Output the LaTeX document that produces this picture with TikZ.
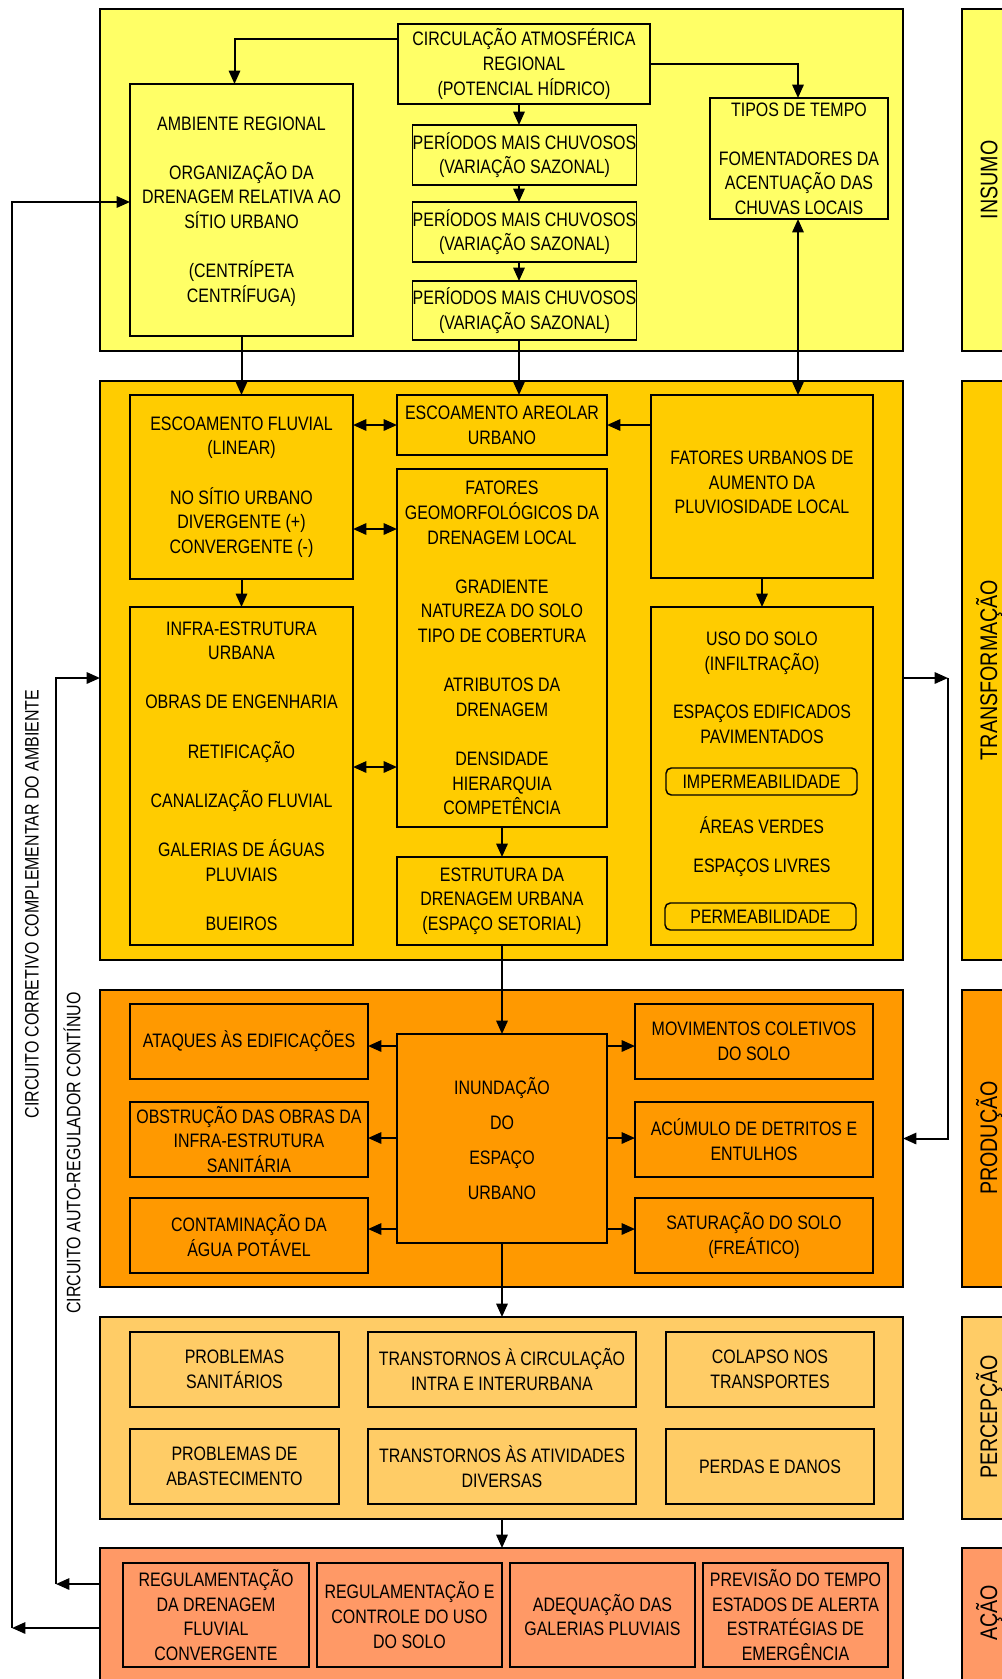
\documentclass[tikz,border=0pt]{standalone}
\usepackage{fontspec}
\setmainfont{Liberation Sans}[FakeStretch=0.82]
\usetikzlibrary{arrows.meta,calc}
\definecolor{cA}{HTML}{FFFF66}
\definecolor{cB}{HTML}{FFCC00}
\definecolor{cC}{HTML}{FF9900}
\definecolor{cD}{HTML}{FFCC66}
\definecolor{cE}{HTML}{FF9966}
\newcommand\txtfont{\fontsize{14.6}{18.45}\selectfont}
\newcommand\bx[7][boxst]{\node[#1, minimum width={(#5-#3)*0.75pt}, minimum height={(#6-#4)*0.75pt}] (#2) at ({(#3+#5)/2},{(#4+#6)/2}) {#7};}
\newcommand\gp{\\[18.45pt]}
\tikzset{
  boxst/.style={draw, line width=1.1pt, inner sep=0pt, outer sep=0pt, align=center, font=\txtfont},
  panel/.style={draw, line width=1.6pt, inner sep=0pt, outer sep=0pt},
  rbox/.style={boxst, rounded corners=4pt},
  plain/.style={inner sep=0pt, outer sep=0pt, align=center, font=\txtfont},
  striptxt/.style={inner sep=0pt, rotate=90, font=\fontsize{18}{20}\selectfont},
  circtxt/.style={inner sep=0pt, rotate=90, font=\txtfont},
  arr/.style={line width=1.5pt, -{Triangle[length=10pt,width=8.5pt]}},
  darr/.style={line width=1.5pt, {Triangle[length=10pt,width=8.5pt]}-{Triangle[length=10pt,width=8.5pt]}},
  ln/.style={line width=1.5pt}
}
\begin{document}
\begin{tikzpicture}[x=0.75pt,y=-0.75pt]
\useasboundingbox (0,0) rectangle (1002,1679);
\clip (0,0) rectangle (1002,1679);
% panels
\bx[panel,fill=cA]{p1}{100}{9}{903}{351}{}
\bx[panel,fill=cB]{p2}{100}{381}{903}{960}{}
\bx[panel,fill=cC]{p3}{100}{990}{903}{1287}{}
\bx[panel,fill=cD]{p4}{100}{1317}{903}{1519}{}
\bx[panel,fill=cE]{p5}{100}{1548}{903}{1720}{}
% strips
\bx[panel,fill=cA]{s1}{962}{9}{1040}{351}{}
\bx[panel,fill=cB]{s2}{962}{381}{1040}{960}{}
\bx[panel,fill=cC]{s3}{962}{990}{1040}{1287}{}
\bx[panel,fill=cD]{s4}{962}{1317}{1040}{1519}{}
\bx[panel,fill=cE]{s5}{962}{1548}{1040}{1720}{}
\node[striptxt] (t1) at (989,180) {INSUMO};
\node[striptxt] (t2) at (989,670) {TRANSFORMAÇÃO};
\node[striptxt] (t3) at (989,1138) {PRODUÇÃO};
\node[striptxt] (t4) at (989,1417) {PERCEPÇÃO};
\node[striptxt] (t5) at (989,1613) {AÇÃO};
% panel 1
\bx{circ}{398}{24}{650}{104}{CIRCULAÇÃO ATMOSFÉRICA\\REGIONAL\\(POTENCIAL HÍDRICO)}
\bx{amb}{130}{84}{353}{336}{\\[-6pt]AMBIENTE REGIONAL\gp ORGANIZAÇÃO DA\\DRENAGEM RELATIVA AO\\SÍTIO URBANO\gp (CENTRÍPETA\\CENTRÍFUGA)}
\bx{per1}{413}{125}{636}{185}{PERÍODOS MAIS CHUVOSOS\\(VARIAÇÃO SAZONAL)}
\bx{per2}{413}{202}{636}{262}{PERÍODOS MAIS CHUVOSOS\\(VARIAÇÃO SAZONAL)}
\bx{per3}{413}{281}{636}{340}{PERÍODOS MAIS CHUVOSOS\\(VARIAÇÃO SAZONAL)}
\bx{tipos}{710}{98}{888}{219}{TIPOS DE TEMPO\gp FOMENTADORES DA\\ACENTUAÇÃO DAS\\CHUVAS LOCAIS}
% panel 2
\bx{escfl}{130}{395}{353}{579}{ESCOAMENTO FLUVIAL\\(LINEAR)\gp NO SÍTIO URBANO\\DIVERGENTE (+)\\CONVERGENTE (-)}
\bx{areo}{397}{395}{607}{455}{ESCOAMENTO AREOLAR\\URBANO}
\bx{fatu}{651}{395}{873}{578}{FATORES URBANOS DE\\AUMENTO DA\\PLUVIOSIDADE LOCAL\\[-12pt]}
\bx{geo}{397}{469}{607}{827}{FATORES\\GEOMORFOLÓGICOS DA\\DRENAGEM LOCAL\gp GRADIENTE\\NATUREZA DO SOLO\\TIPO DE COBERTURA\gp ATRIBUTOS DA\\DRENAGEM\gp DENSIDADE\\HIERARQUIA\\COMPETÊNCIA}
\bx{infra}{130}{607}{353}{945}{INFRA-ESTRUTURA\\URBANA\gp OBRAS DE ENGENHARIA\gp RETIFICAÇÃO\gp CANALIZAÇÃO FLUVIAL\gp GALERIAS DE ÁGUAS\\PLUVIAIS\gp BUEIROS}
\bx{estr}{397}{857}{607}{945}{ESTRUTURA DA\\DRENAGEM URBANA\\(ESPAÇO SETORIAL)}
\bx{uso}{651}{607}{873}{945}{}
\node[plain] (u1) at (762,653) {USO DO SOLO\\(INFILTRAÇÃO)};
\node[plain] (u2) at (762,724) {ESPAÇOS EDIFICADOS\\PAVIMENTADOS};
\bx[rbox]{imp}{666}{768}{857}{795}{IMPERMEABILIDADE}
\node[plain] (u3) at (762,825) {ÁREAS VERDES};
\node[plain] (u4) at (762,868) {ESPAÇOS LIVRES};
\bx[rbox]{perm}{665}{903}{856}{930}{PERMEABILIDADE}
% panel 3
\bx{l1}{130}{1004}{368}{1079}{ATAQUES ÀS EDIFICAÇÕES}
\bx{l2}{130}{1102}{368}{1177}{OBSTRUÇÃO DAS OBRAS DA\\INFRA-ESTRUTURA\\SANITÁRIA}
\bx{l3}{130}{1198}{368}{1273}{CONTAMINAÇÃO DA\\ÁGUA POTÁVEL}
\bx{inund}{397}{1034}{607}{1243}{INUNDAÇÃO\\[8pt]DO\\[8pt]ESPAÇO\\[8pt]URBANO}
\bx{r1}{635}{1004}{873}{1079}{MOVIMENTOS COLETIVOS\\DO SOLO}
\bx{r2}{635}{1102}{873}{1177}{ACÚMULO DE DETRITOS E\\ENTULHOS}
\bx{r3}{635}{1198}{873}{1273}{SATURAÇÃO DO SOLO\\(FREÁTICO)}
% panel 4
\bx{q1}{130}{1332}{339}{1407}{PROBLEMAS\\SANITÁRIOS}
\bx{q2}{368}{1332}{636}{1407}{TRANSTORNOS À CIRCULAÇÃO\\INTRA E INTERURBANA}
\bx{q3}{666}{1332}{874}{1407}{COLAPSO NOS\\TRANSPORTES}
\bx{q4}{130}{1429}{339}{1504}{PROBLEMAS DE\\ABASTECIMENTO}
\bx{q5}{368}{1429}{636}{1504}{TRANSTORNOS ÀS ATIVIDADES\\DIVERSAS}
\bx{q6}{666}{1429}{874}{1504}{PERDAS E DANOS}
% panel 5
\bx{a1}{123}{1563}{309}{1667}{REGULAMENTAÇÃO\\DA DRENAGEM\\FLUVIAL\\CONVERGENTE}
\bx{a2}{317}{1563}{502}{1667}{REGULAMENTAÇÃO E\\CONTROLE DO USO\\DO SOLO}
\bx{a3}{510}{1563}{695}{1667}{ADEQUAÇÃO DAS\\GALERIAS PLUVIAIS}
\bx{a4}{703}{1563}{888}{1667}{PREVISÃO DO TEMPO\\ESTADOS DE ALERTA\\ESTRATÉGIAS DE\\EMERGÊNCIA}
% left circuit texts
\node[circtxt] (c1) at (32,904) {CIRCUITO CORRETIVO COMPLEMENTAR DO AMBIENTE};
\node[circtxt] (c2) at (72,1153) {CIRCUITO AUTO-REGULADOR CONTÍNUO};
% helper coordinates
\coordinate (cx1) at (241.5,0);
\coordinate (cx2) at (519,0);
\coordinate (cx3) at (798,0);
\coordinate (cx4) at (502,0);
\coordinate (yb) at (0,529);
\coordinate (yc) at (0,767);
\coordinate (ya1) at (0,1046);
\coordinate (ya2) at (0,1138);
\coordinate (ya3) at (0,1229);
\coordinate (rc) at (948,678);
\coordinate (li1) at (56,1584);
\coordinate (li2) at (56,678);
\coordinate (lo1) at (12,1628);
\coordinate (lo2) at (12,202);
% panel 1 connectors
\draw[arr] (circ.west) ++(0,-25) -| ($(amb.north)+(-7,0)$);
\draw[arr] (circ.east) -| (tipos.north -| cx3);
\draw[arr] (circ.south -| cx2) -- (per1.north -| cx2);
\draw[arr] (per1.south -| cx2) -- (per2.north -| cx2);
\draw[arr] (per2.south -| cx2) -- (per3.north -| cx2);
\draw[arr] (per3.south -| cx2) -- (areo.north -| cx2);
\draw[arr] (amb.south -| cx1) -- (escfl.north -| cx1);
\draw[darr] (tipos.south -| cx3) -- (fatu.north -| cx3);
% panel 2 connectors
\draw[darr] (escfl.east |- areo.west) -- (areo.west);
\draw[arr] (fatu.west |- areo.east) -- (areo.east);
\draw[darr] (escfl.east |- yb) -- (geo.west |- yb);
\draw[arr] (escfl.south -| cx1) -- (infra.north -| cx1);
\draw[darr] (infra.east |- yc) -- (geo.west |- yc);
\draw[arr] (geo.south -| cx4) -- (estr.north -| cx4);
\draw[arr] (fatu.south) -- (uso.north);
\draw[arr] (estr.south -| cx4) -- (inund.north -| cx4);
% panel 3 connectors
\draw[arr] (inund.west |- ya1) -- (l1.east |- ya1);
\draw[arr] (inund.west |- ya2) -- (l2.east |- ya2);
\draw[arr] (inund.west |- ya3) -- (l3.east |- ya3);
\draw[arr] (inund.east |- ya1) -- (r1.west |- ya1);
\draw[arr] (inund.east |- ya2) -- (r2.west |- ya2);
\draw[arr] (inund.east |- ya3) -- (r3.west |- ya3);
\draw[arr] (inund.south -| cx4) -- (p4.north -| cx4);
\draw[arr] (p4.south -| cx4) -- (p5.north -| cx4);
% feedback connectors
\draw[arr] (p2.east |- rc) -- (rc);
\draw[arr] (rc) |- (p3.east);
\draw[arr] (p5.west |- li1) -- (li1);
\draw[arr] (li1) -- (li2) -- (p2.west |- li2);
\draw[arr] (p5.west |- lo1) -- (lo1);
\draw[arr] (lo1) -- (lo2) -- (amb.west |- lo2);
\end{tikzpicture}
\end{document}
